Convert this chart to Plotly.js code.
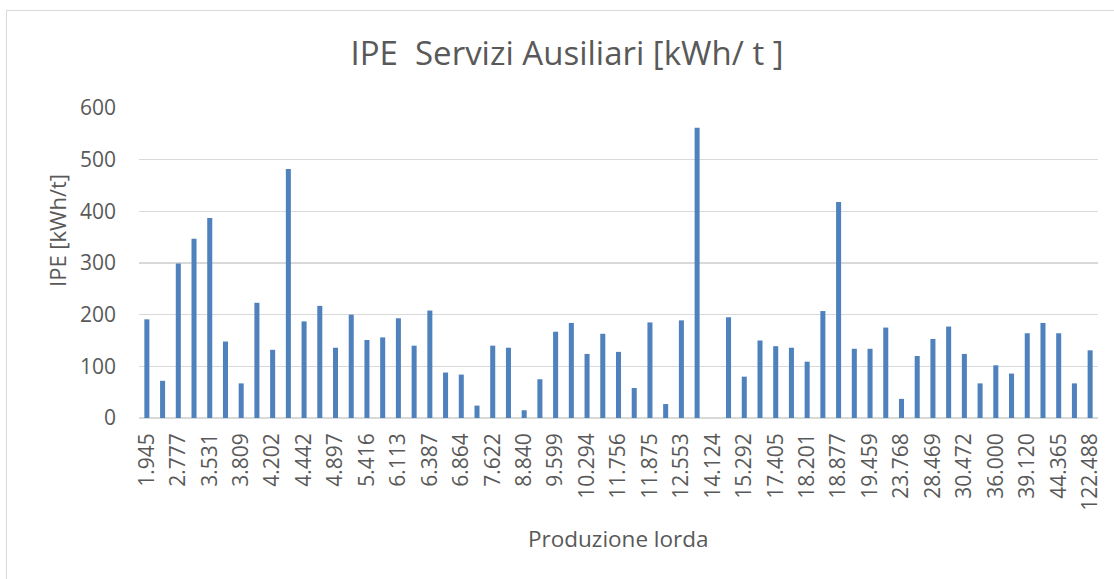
<!DOCTYPE html>
<html>
<head>
<meta charset="utf-8">
<script src="https://cdn.plot.ly/plotly-3.0.1.min.js"></script>
<style>
  html, body { margin: 0; padding: 0; overflow: hidden; background: #ffffff; }
  #frame { position: absolute; left: 6px; top: 10px; width: 1300px; height: 800px; border: 1px solid #d9d9d9; }
  #chart { position: absolute; left: 0; top: 0; width: 1114px; height: 579px; }
</style>
</head>
<body>
<div id="frame"></div>
<div id="chart"></div>
<script>
// Visible category labels (every other bar is labelled)
const tickLabels = ["1.945","2.777","3.531","3.809","4.202","4.442","4.897","5.416","6.113","6.387",
  "6.864","7.622","8.840","9.599","10.294","11.756","11.875","12.553","14.124","15.292",
  "17.405","18.201","18.877","19.459","23.768","28.469","30.472","36.000","39.120","44.365","122.488"];

// IPE values [kWh/t], one per bar (61 bars)
const ipeValues = [191,72,299,347,387,148,67,223,132,482,
  187,217,136,200,151,156,193,140,208,88,
  84,24,140,136,15,75,167,184,124,163,
  128,58,185,27,189,562,0,195,80,150,
  139,136,109,207,418,134,134,175,37,120,
  153,177,124,67,102,86,164,184,164,67,131];

const barIndex = ipeValues.map((_, i) => i);
const tickPositions = tickLabels.map((_, k) => 2 * k);

const FONT = "'Open Sans', sans-serif";
const GREY = "#595959";

const trace = {
  type: "bar",
  x: barIndex,
  y: ipeValues,
  marker: { color: "#4f81bd" },
  hoverinfo: "skip"
};

const layout = {
  width: 1114,
  height: 579,
  paper_bgcolor: "rgba(0,0,0,0)",
  plot_bgcolor: "rgba(0,0,0,0)",
  margin: { l: 139, r: 16, t: 108, b: 161 },
  showlegend: false,
  bargap: 0.68,
  font: { family: FONT, color: GREY, size: 21 },
  title: {
    text: "IPE&nbsp; Servizi Ausiliari [kWh/ t ]",
    font: { family: FONT, size: 33, color: GREY },
    xref: "container", yref: "container",
    x: 567 / 1114, xanchor: "center",
    y: 1 - 53 / 579, yanchor: "middle"
  },
  xaxis: {
    range: [-0.5, ipeValues.length - 0.5],
    tickmode: "array",
    tickvals: tickPositions,
    ticktext: tickLabels,
    tickangle: -90,
    ticks: "",
    ticklabelstandoff: 10,
    tickfont: { family: FONT, size: 21, color: GREY },
    showgrid: false,
    zeroline: false,
    showline: false,
    fixedrange: true
  },
  yaxis: {
    range: [0, 600],
    tickmode: "array",
    tickvals: [0, 100, 200, 300, 400, 500, 600],
    ticks: "",
    ticklabelstandoff: 22,
    tickfont: { family: FONT, size: 21, color: GREY },
    showgrid: true,
    gridcolor: "#d9d9d9",
    gridwidth: 1.5,
    zeroline: true,
    zerolinecolor: "#d9d9d9",
    zerolinewidth: 1.5,
    showline: false,
    fixedrange: true
  },
  annotations: [
    {
      text: "IPE [kWh/t]",
      xref: "paper", yref: "paper",
      x: (57 - 139) / 959, y: (418 - 231) / 310,
      xanchor: "center", yanchor: "middle",
      textangle: -90,
      showarrow: false,
      font: { family: FONT, size: 22, color: GREY }
    },
    {
      text: "Produzione lorda",
      xref: "paper", yref: "paper",
      x: 0.5, y: (418 - 538) / 310,
      xanchor: "center", yanchor: "middle",
      showarrow: false,
      font: { family: FONT, size: 22.5, color: GREY }
    }
  ]
};

Plotly.newPlot("chart", [trace], layout, { displayModeBar: false, staticPlot: true });
</script>
</body>
</html>
